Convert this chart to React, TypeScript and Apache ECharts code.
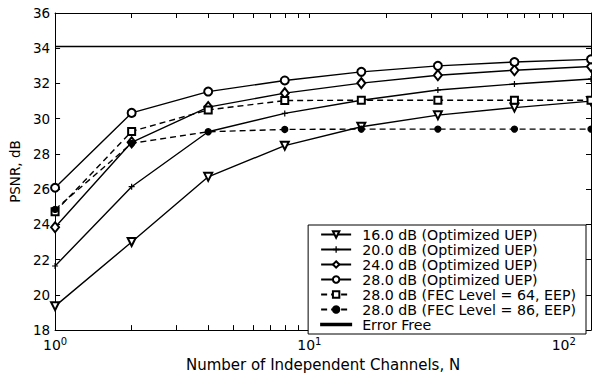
import React, { useEffect, useRef } from "react";
import * as echarts from "echarts";

const channels = [1, 2, 4, 8, 16, 32, 64, 128];
const uep16 = [19.36, 23.0, 26.7, 28.47, 29.54, 30.2, 30.63, 31.0];
const uep20 = [21.64, 26.14, 29.26, 30.3, 31.05, 31.63, 31.97, 32.25];
const uep24 = [23.84, 28.66, 30.66, 31.45, 32.02, 32.47, 32.75, 32.96];
const uep28 = [26.08, 30.33, 31.54, 32.17, 32.66, 33.0, 33.22, 33.37];
const fec64 = [24.72, 29.28, 30.5, 31.03, 31.05, 31.05, 31.05, 31.05];
const fec86 = [24.85, 28.6, 29.26, 29.39, 29.41, 29.41, 29.41, 29.41];
const errorFreeX = [1, 128];
const errorFree = [34.1, 34.1];

const names = [
  "16.0 dB (Optimized UEP)",
  "20.0 dB (Optimized UEP)",
  "24.0 dB (Optimized UEP)",
  "28.0 dB (Optimized UEP)",
  "28.0 dB (FEC Level = 64, EEP)",
  "28.0 dB (FEC Level = 86, EEP)",
  "Error Free",
];

const xTicks = [1, 2, 3, 4, 5, 6, 7, 8, 9, 10, 20, 30, 40, 50, 60, 70, 80, 90, 100];
const xLabels = [1, 10, 100];

const FONT = "DejaVu Sans";
const PLUS = "path://M2.4,0H3.6V2.4H6V3.6H3.6V6H2.4V3.6H0V2.4H2.4Z";
const LINE_ICON = "path://M0,0H30V1.4H0Z";

function pts(ys: number[], xs: number[] = channels) {
  return ys.map((y, i) => [xs[i], y]);
}

export default function App() {
  const ref = useRef<HTMLDivElement>(null);
  useEffect(() => {
    const chart = echarts.init(ref.current!, undefined, { renderer: "svg" });
    const axisLine = { show: true, onZero: false, lineStyle: { color: "#000", width: 1 } };
    const xBase = {
      type: "log",
      logBase: 10,
      min: 1,
      max: 128,
      axisLine,
      splitLine: { show: false },
      axisTick: { show: true, inside: true, length: 5, customValues: xTicks, lineStyle: { color: "#000" } },
    };
    const yBase = {
      type: "value",
      min: 18,
      max: 36,
      interval: 2,
      axisLine,
      splitLine: { show: false },
      axisTick: { show: true, inside: true, length: 5, lineStyle: { color: "#000" } },
    };
    const lineSeries = (name: string, data: number[][], symbol: string, size: any, dashed: boolean, extra: any = {}) => ({
      name,
      type: "line",
      data,
      symbol,
      symbolSize: size,
      showSymbol: symbol !== "none",
      lineStyle: { color: "#000", width: 1.4, type: dashed ? [6, 4] : "solid" },
      itemStyle: { color: "#000", borderColor: "#000", borderWidth: 1.3 },
      z: 3,
      ...extra,
    });
    chart.setOption({
      animation: false,
      backgroundColor: "#fff",
      grid: { left: 51, right: 1, top: 13, bottom: 42, containLabel: false },
      xAxis: [
        {
          ...xBase,
          position: "bottom",
          name: "Number of Independent Channels, N",
          nameLocation: "middle",
          nameGap: 25,
          nameTextStyle: { fontFamily: FONT, fontSize: 15, color: "#000" },
          axisLabel: {
            show: true,
            margin: 6,
            customValues: xLabels,
            color: "#000",
            formatter: (v: number) => "{b|10}{s|" + Math.round(Math.log10(v)) + "}",
            rich: {
              b: { fontFamily: FONT, fontSize: 14, color: "#000", lineHeight: 16, verticalAlign: "bottom" },
              s: { fontFamily: FONT, fontSize: 10, color: "#000", lineHeight: 16, verticalAlign: "top", padding: [0, 0, 6, 0] },
            },
          },
        },
        { ...xBase, position: "top", axisLabel: { show: false } },
      ],
      yAxis: [
        {
          ...yBase,
          position: "left",
          name: "PSNR, dB",
          nameLocation: "middle",
          nameGap: 30,
          nameTextStyle: { fontFamily: FONT, fontSize: 13.5, color: "#000" },
          axisLabel: { show: true, margin: 5, fontFamily: FONT, fontSize: 13.5, color: "#000" },
        },
        { ...yBase, position: "right", axisLabel: { show: false } },
      ],
      legend: {
        orient: "vertical",
        right: 6,
        bottom: 43,
        backgroundColor: "#fff",
        borderColor: "#000",
        borderWidth: 1,
        borderRadius: 0,
        padding: [2, 10, 2, 12],
        itemGap: 0,
        itemWidth: 30,
        itemHeight: 8,
        textStyle: { fontFamily: FONT, fontSize: 14.2, color: "#000", lineHeight: 15, padding: [0, 0, 0, 6] },
        data: [
          names[0],
          names[1],
          names[2],
          names[3],
          names[4],
          names[5],
          { name: names[6], icon: LINE_ICON },
        ],
      },
      series: [
        lineSeries(names[0], pts(uep16), "emptyTriangle", 8, false, { symbolRotate: 180 }),
        lineSeries(names[1], pts(uep20), PLUS, 6, false, { itemStyle: { color: "#000", borderWidth: 0 } }),
        lineSeries(names[2], pts(uep24), "emptyDiamond", [8, 10], false),
        lineSeries(names[3], pts(uep28), "emptyCircle", 8, false),
        lineSeries(names[4], pts(fec64), "emptyRect", 7, true),
        lineSeries(names[5], pts(fec86), "circle", 6, true),
        lineSeries(names[6], pts(errorFree, errorFreeX), "none", 0, false),
      ],
    });
    return () => chart.dispose();
  }, []);
  return <div ref={ref} style={{ width: 592, height: 377, position: "absolute", left: 0, top: 0 }} />;
}
